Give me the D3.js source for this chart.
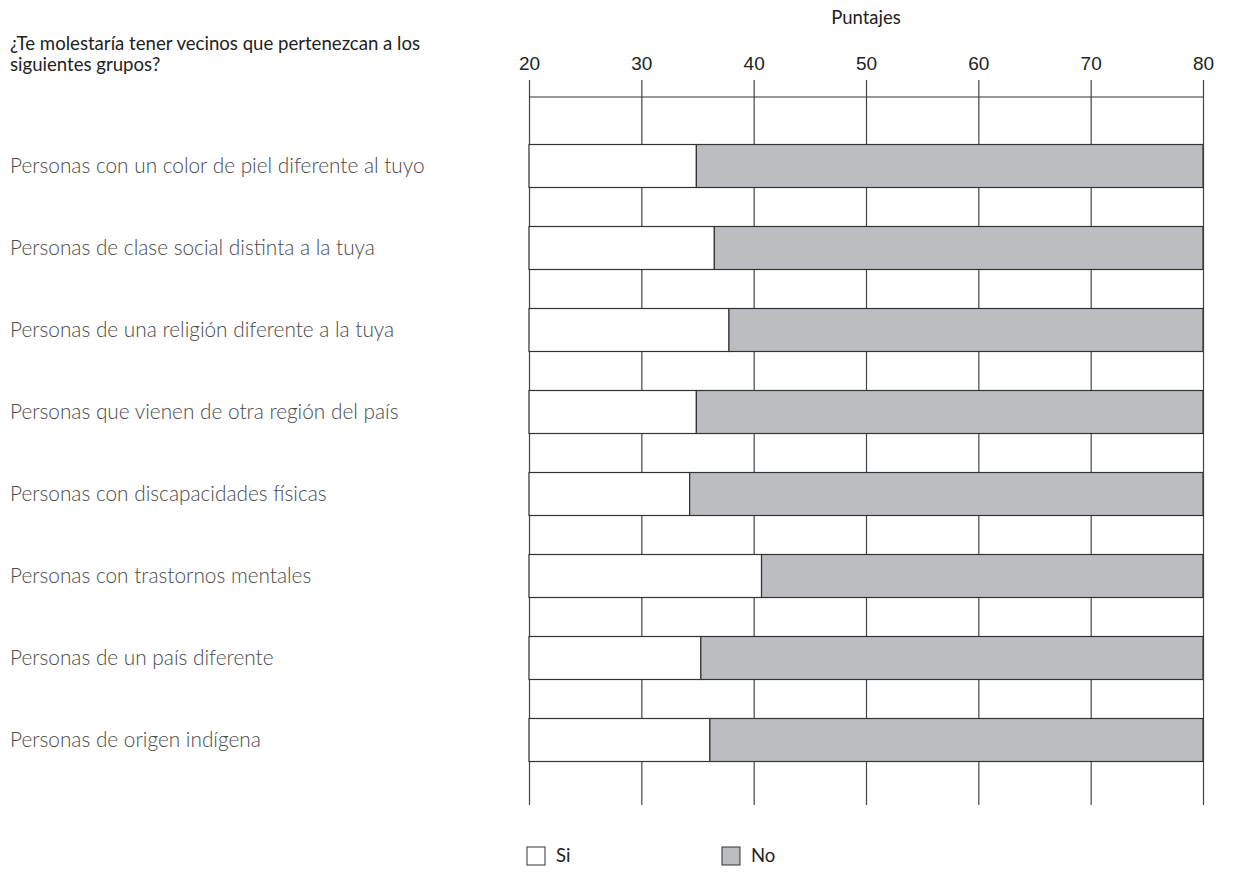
<!DOCTYPE html>
<html>
<head>
  <meta charset="utf-8">
  <script src="https://cdn.jsdelivr.net/npm/d3@7"></script>
  <style>
    body { margin: 0; background: #fff; }
    svg { font-family: Lato, "Open Sans", sans-serif; }
    .tick line { stroke: #444; stroke-width: 1.2; }
    .tick text { fill: #222; font-size: 19px; }
    .cat { fill: #4a4a4a; font-size: 20.8px; font-weight: 300; }
    .note { fill: #222; font-size: 18.6px; }
  </style>
</head>
<body>
  <svg id="chart"></svg>
  <script>
    var categories = [
      'Personas con un color de piel diferente al tuyo',
      'Personas de clase social distinta a la tuya',
      'Personas de una religión diferente a la tuya',
      'Personas que vienen de otra región del país',
      'Personas con discapacidades físicas',
      'Personas con trastornos mentales',
      'Personas de un país diferente',
      'Personas de origen indígena'
    ];
    // score where the "Si" part ends and "No" begins
    var siValues = [34.9, 36.5, 37.8, 34.9, 34.3, 40.7, 35.3, 36.1];
    var tickValues = [20, 30, 40, 50, 60, 70, 80];

    var width = 1234, height = 872;
    var svg = d3.select('#chart')
      .attr('width', width)
      .attr('height', height);

    var x = d3.scaleLinear()
      .domain([20, 80])
      .range([529, 1203]);

    var y = d3.scalePoint()
      .domain(categories)
      .range([166, 740]);

    var barH = 43;
    var gridTop = 80, gridBottom = 805;

    // axis with long grid lines
    var xAxis = d3.axisTop(x)
      .tickValues(tickValues)
      .tickSize(-(gridBottom - gridTop))
      .tickPadding(10);

    var ax = svg.append('g')
      .attr('transform', 'translate(0,' + gridTop + ')')
      .call(xAxis);
    ax.select('.domain').remove();
    ax.selectAll('.tick text').attr('dy', '0');

    svg.append('line')
      .attr('x1', x(20)).attr('x2', x(80))
      .attr('y1', 97).attr('y2', 97)
      .attr('stroke', '#333').attr('stroke-width', 1.2);

    svg.append('text')
      .attr('x', x(50))
      .attr('y', 24)
      .attr('text-anchor', 'middle')
      .attr('fill', '#222')
      .style('font-size', '18.5px')
      .text('Puntajes');

    var rows = svg.selectAll('g.row')
      .data(categories)
      .enter()
      .append('g')
      .attr('class', 'row');

    rows.append('rect')
      .attr('x', x(20))
      .attr('y', d => y(d) - barH / 2)
      .attr('width', (d, i) => x(siValues[i]) - x(20))
      .attr('height', barH)
      .attr('fill', '#fff')
      .attr('stroke', '#333')
      .attr('stroke-width', 1.2);

    rows.append('rect')
      .attr('x', (d, i) => x(siValues[i]))
      .attr('y', d => y(d) - barH / 2)
      .attr('width', (d, i) => x(80) - x(siValues[i]))
      .attr('height', barH)
      .attr('fill', '#bcbdc0')
      .attr('stroke', '#333')
      .attr('stroke-width', 1.2);

    rows.append('text')
      .attr('class', 'cat')
      .attr('x', 10)
      .attr('y', d => y(d))
      .attr('dy', '0.35em')
      .text(d => d);

    var note = svg.append('text')
      .attr('class', 'note')
      .attr('x', 10)
      .attr('y', 50);
    note.append('tspan').attr('x', 10).text('¿Te molestaría tener vecinos que pertenezcan a los');
    note.append('tspan').attr('x', 10).attr('dy', 21).text('siguientes grupos?');

    // legend
    var legend = [['Si', '#fff', 527], ['No', '#bcbdc0', 722]];
    var lg = svg.selectAll('g.legend')
      .data(legend)
      .enter()
      .append('g')
      .attr('class', 'legend')
      .attr('transform', d => 'translate(' + d[2] + ',847)');
    lg.append('rect')
      .attr('width', 18).attr('height', 18)
      .attr('fill', d => d[1])
      .attr('stroke', '#333').attr('stroke-width', 1);
    lg.append('text')
      .attr('x', 29).attr('y', 9)
      .attr('dy', '0.35em')
      .attr('fill', '#222')
      .style('font-size', '18.5px')
      .text(d => d[0]);
  </script>
</body>
</html>
